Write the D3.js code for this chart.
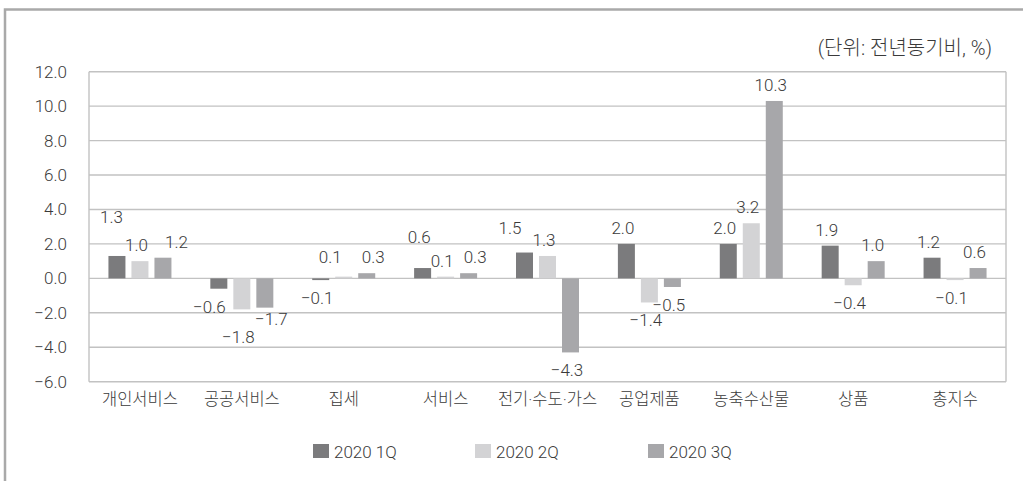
<!DOCTYPE html>
<html>
<head>
<meta charset="utf-8">
<script src="https://cdn.jsdelivr.net/npm/d3@7"></script>
<style>
  html, body { margin: 0; padding: 0; background: #fff; }
  svg { display: block; }
  text { font-family: Roboto, "Noto Sans CJK KR", sans-serif; fill: #3a3a3a; font-weight: 300; }
</style>
</head>
<body>
<svg id="chart" width="1023" height="481"></svg>
<script>
// Categories and quarterly year-on-year changes (%)
const categories = ["개인서비스", "공공서비스", "집세", "서비스", "전기·수도·가스", "공업제품", "농축수산물", "상품", "총지수"];
const seriesNames = ["2020 1Q", "2020 2Q", "2020 3Q"];
const q1 = [1.3, -0.6, -0.1, 0.6, 1.5, 2.0, 2.0, 1.9, 1.2];
const q2 = [1.0, -1.8, 0.1, 0.1, 1.3, -1.4, 3.2, -0.4, -0.1];
const q3 = [1.2, -1.7, 0.3, 0.3, -4.3, -0.5, 10.3, 1.0, 0.6];
const yTicks = [-6, -4, -2, 0, 2, 4, 6, 8, 10, 12];
const unitLabel = "(단위: 전년동기비, %)";

const seriesValues = [q1, q2, q3];
const colors = ["#7b7b7d", "#d3d3d5", "#a7a7aa"];
const gridColor = "#c2c2c2";

// Hand-placed label nudges (dx, dy) so labels don't collide
const labelNudge = {
  "0|0": [-2, -23], "0|2": [17, 0],
  "1|0": [-6, 0], "1|1": [0, 10], "1|2": [10, -7],
  "2|1": [-10, -4], "2|2": [10, 0],
  "3|0": [0, -15], "3|2": [10, 0],
  "4|0": [-11, -9]
};

const svg = d3.select("#chart");
const plotLeft = 89, plotRight = 1006, plotTop = 71.7, plotBottom = 381.7;

const x = d3.scaleBand().domain(categories).range([plotLeft, plotRight]).padding(0);
const bw = x.bandwidth();
const xs = d3.scaleBand().domain(seriesNames)
  .range([bw / 2 - 31.5, bw / 2 + 31.5]).paddingInner(6 / 23).paddingOuter(0);
const y = d3.scaleLinear().domain([-6, 12]).range([plotBottom, plotTop]);
const fmt = d3.format(".1f");

// Outer frame (top and left edges)
svg.append("path")
  .attr("d", `M5,481 V9.5 H1023`)
  .attr("fill", "none").attr("stroke", "#a9a9a9").attr("stroke-width", 2.5);

// Unit note
svg.append("text")
  .attr("x", 992).attr("y", 55)
  .attr("text-anchor", "end")
  .style("font-size", "20px")
  .text(unitLabel);

// Horizontal gridlines
svg.append("g").selectAll("line").data(yTicks).join("line")
  .attr("x1", plotLeft).attr("x2", plotRight)
  .attr("y1", d => y(d)).attr("y2", d => y(d))
  .attr("stroke", gridColor).attr("stroke-width", 1.4);

// Plot area side borders
svg.append("g").selectAll("line").data([plotLeft, plotRight]).join("line")
  .attr("x1", d => d).attr("x2", d => d)
  .attr("y1", plotTop).attr("y2", plotBottom)
  .attr("stroke", gridColor).attr("stroke-width", 1.4);

// Y axis labels
const yAxis = d3.axisLeft(y).tickValues(yTicks).tickFormat(fmt).tickSize(0).tickPadding(22);
const gy = svg.append("g").attr("transform", `translate(${plotLeft},0)`).call(yAxis);
gy.select(".domain").remove();
gy.attr("font-family", null).attr("font-size", null);
gy.selectAll("text").style("font-size", "17px").attr("fill", "#3a3a3a");

// X axis labels
const xAxis = d3.axisBottom(x).tickSize(0).tickPadding(12);
const gx = svg.append("g").attr("transform", `translate(0,${plotBottom})`).call(xAxis);
gx.select(".domain").remove();
gx.attr("font-family", null).attr("font-size", null);
gx.selectAll("text").style("font-size", "16.5px").attr("fill", "#3a3a3a");

// Flatten data for bars
const rows = [];
categories.forEach((c, ci) => {
  seriesNames.forEach((s, si) => {
    rows.push({ c, ci, s, si, v: seriesValues[si][ci] });
  });
});

// Bars
svg.append("g").selectAll("rect").data(rows).join("rect")
  .attr("x", d => x(d.c) + xs(d.s))
  .attr("width", xs.bandwidth())
  .attr("y", d => y(Math.max(0, d.v)))
  .attr("height", d => Math.abs(y(d.v) - y(0)))
  .attr("fill", d => colors[d.si]);

// Value labels
svg.append("g").selectAll("text").data(rows).join("text")
  .attr("text-anchor", "middle")
  .attr("dominant-baseline", "central")
  .style("font-size", "17px")
  .attr("x", d => {
    const n = labelNudge[d.ci + "|" + d.si] || [0, 0];
    return x(d.c) + xs(d.s) + xs.bandwidth() / 2 - 3.5 + n[0];
  })
  .attr("y", d => {
    const n = labelNudge[d.ci + "|" + d.si] || [0, 0];
    const base = d.v >= 0 ? y(d.v) - 16 : y(d.v) + 18;
    return base + n[1];
  })
  .text(d => fmt(d.v));

// Legend
const legendX = [313, 475, 648];
const lg = svg.append("g").selectAll("g").data(seriesNames).join("g")
  .attr("transform", (d, i) => `translate(${legendX[i]},444)`);
lg.append("rect").attr("width", 16).attr("height", 14).attr("fill", (d, i) => colors[i]);
lg.append("text").attr("x", 21).attr("y", 7.5).attr("dominant-baseline", "central")
  .style("font-size", "17px").text(d => d);
</script>
</body>
</html>
